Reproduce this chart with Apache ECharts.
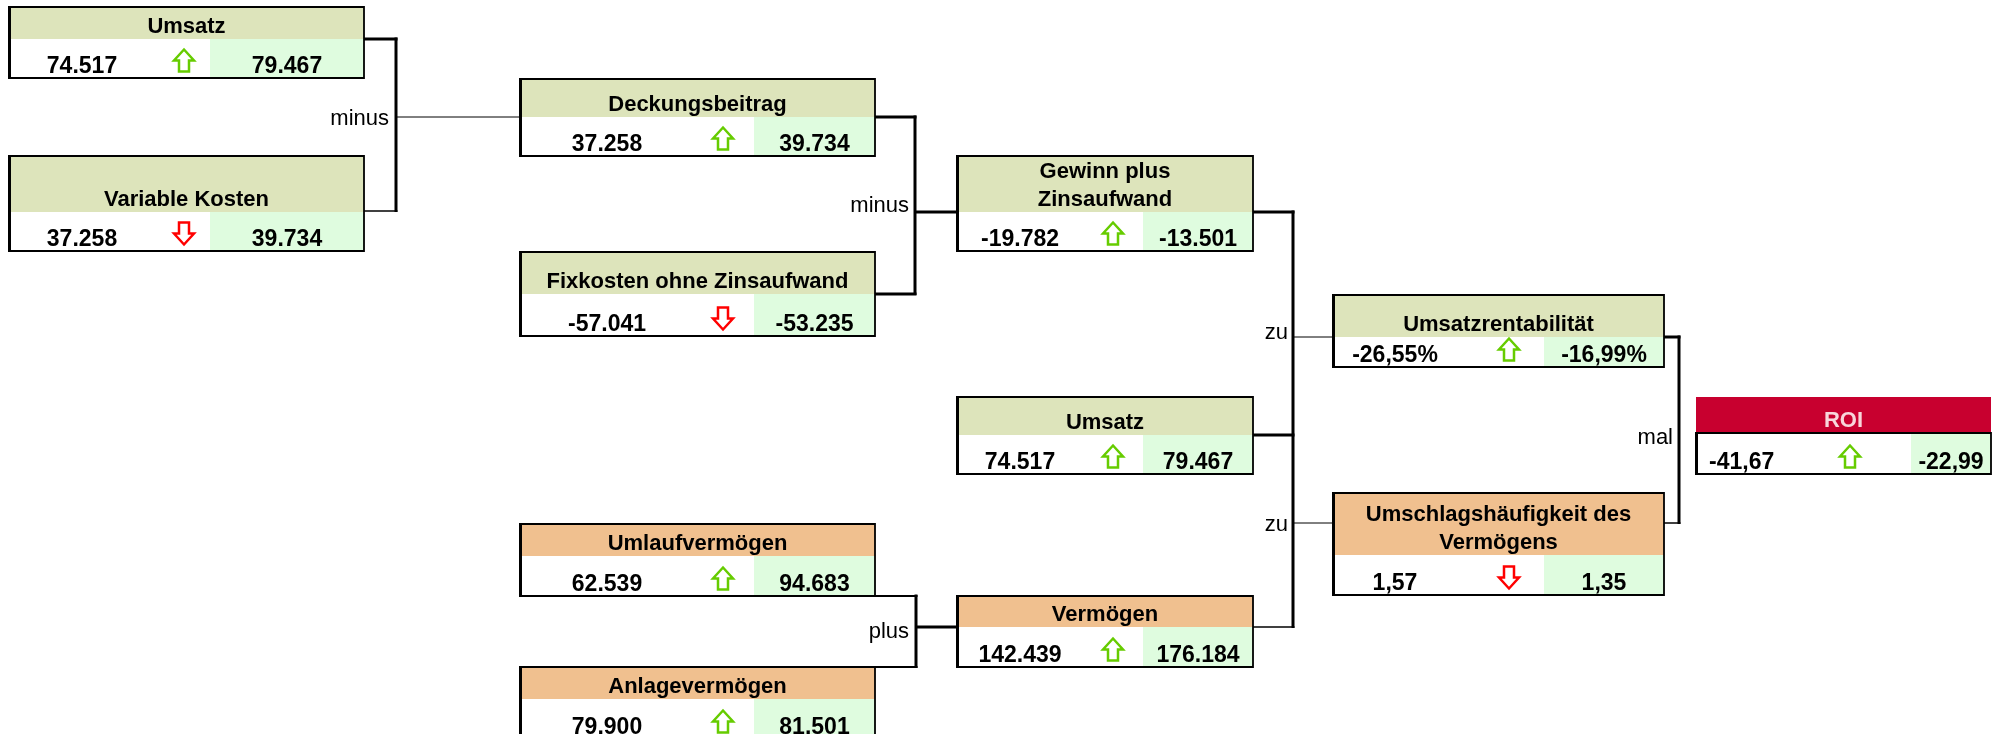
<!DOCTYPE html>
<html>
<head>
<meta charset="utf-8">
<title>ROI Kennzahlenbaum</title>
<script src="https://cdn.jsdelivr.net/npm/echarts@6/dist/echarts.min.js"></script>
<style>
html, body { margin: 0; padding: 0; background: #fff; }
#main { width: 2002px; height: 734px; }
</style>
</head>
<body>
<div id="main"></div>
<script>
/************** Kennzahlen (Vorjahr / aktuell) ************** */
var nodeNames = ['Umsatz', 'Variable Kosten', 'Deckungsbeitrag', 'Fixkosten ohne Zinsaufwand',
	'Gewinn plus\nZinsaufwand', 'Umsatz', 'Umlaufvermögen', 'Anlagevermögen', 'Vermögen',
	'Umsatzrentabilität', 'Umschlagshäufigkeit des\nVermögens', 'ROI'];
var prevValues = [74517, 37258, 37258, -57041, -19782, 74517, 62539, 79900, 142439, -26.55, 1.57, -41.67];
var currValues = [79467, 39734, 39734, -53235, -13501, 79467, 94683, 81501, 176184, -16.99, 1.35, -22.99];
var trend = [1, -1, 1, -1, 1, 1, 1, 1, 1, 1, -1, 1]; // 1 = besser, -1 = schlechter
var valueFormat = ['int', 'int', 'int', 'int', 'int', 'int', 'int', 'int', 'int', 'pct', 'dec', 'dec'];
var operators = ['minus', 'minus', 'plus', 'zu', 'zu', 'mal'];

/************** Layout (Pixel im Raster 2002 x 734) ************** */
// Spalten: links, Breite, Beginn grüne Zelle, Pfeil, Vorjahreswert (relativ zu links)
var columns = [
	{ x: 9, w: 355, green: 201, arrow: 175, prev: 73 },
	{ x: 520, w: 355, green: 234, arrow: 203, prev: 87 },
	{ x: 957, w: 296, green: 186, arrow: 156, prev: 63 },
	{ x: 1333, w: 331, green: 211, arrow: 176, prev: 62 },
	{ x: 1696, w: 295, green: 215, arrow: 154, prev: 13, prevAlign: 'left' }
];
// Box: Spalte, oben, Ende Kopfzeile, unten, Kopffarbe
var boxes = [
	[0, 7, 39, 78, 'g'],
	[0, 156, 212, 251, 'g'],
	[1, 79, 117, 156, 'g'],
	[1, 252, 294, 336, 'g'],
	[2, 156, 212, 251, 'g'],
	[2, 397, 435, 474, 'g'],
	[1, 524, 556, 596, 'o'],
	[1, 667, 699, 739, 'o'],
	[2, 596, 627, 667, 'o'],
	[3, 295, 337, 367, 'g'],
	[3, 493, 555, 595, 'o'],
	[4, 397, 433, 474, 'r']
];
// Klammern: x, Kinder [box, y, Stärke], Eltern [box, y, Stärke]
var brackets = [
	{ x: 396, kids: [[0, 39, 3], [1, 211, 1.5]], parents: [[2, 117, 1]] },
	{ x: 915, kids: [[2, 117, 3], [3, 294, 3]], parents: [[4, 212, 3]] },
	{ x: 916, kids: [[6, 596, 2], [7, 667, 2]], parents: [[8, 627, 3]] },
	{ x: 1293, kids: [[4, 212, 3], [5, 435, 3], [8, 627, 1.5]], parents: [[9, 337, 1], [10, 523, 1]] },
	{ x: 1679, kids: [[9, 337, 3], [10, 523, 1.5]], parents: [] }
];
// Operator-Beschriftung: rechter Rand, Grundlinie
var operatorPos = [[389, 126], [909, 213], [909, 639], [1288, 340], [1288, 532], [1673, 445]];

var headColors = { g: '#DDE4BB', o: '#F0C08F', r: '#C8002F' };
var greenCell = '#DFFCDF';
var FONT = '"Liberation Sans", Arial, sans-serif';

function fmt(v, kind) {
	if (kind === 'pct') return v.toFixed(2).replace('.', ',') + '%';
	if (kind === 'dec') return v.toFixed(2).replace('.', ',');
	var s = String(Math.abs(Math.round(v))).replace(/\B(?=(\d{3})+(?!\d))/g, '.');
	return (v < 0 ? '-' : '') + s;
}

function textEl(str, x, y, size, weight, color, align) {
	return {
		type: 'text',
		style: {
			text: str, x: x, y: y - size * 0.33,
			fill: color, font: weight + ' ' + size + 'px ' + FONT,
			align: align, verticalAlign: 'middle'
		}
	};
}

// hohler Blockpfeil, dir 1 = nach oben, -1 = nach unten
function arrowEl(cx, cy, dir) {
	var pts = [[0, -11], [10, 0], [5, 0], [5, 11], [-5, 11], [-5, 0], [-10, 0]];
	return {
		type: 'polygon',
		shape: { points: pts.map(function (p) { return [cx + p[0], cy + p[1] * dir]; }) },
		style: { fill: '#fff', stroke: dir > 0 ? '#66CC00' : '#FF0000', lineWidth: 2.5 }
	};
}

function renderBox(params, api) {
	var i = api.value(0);
	var b = boxes[i], col = columns[b[0]];
	var tl = api.coord([col.x, b[1]]);
	var hb = api.coord([col.x + col.w, b[2]]);
	var br = api.coord([col.x + col.w, b[3]]);
	var gx = api.coord([col.x + col.green, b[2]])[0];
	var w = br[0] - tl[0];
	var children = [];
	children.push({ type: 'rect', shape: { x: tl[0], y: tl[1], width: w, height: hb[1] - tl[1] }, style: { fill: headColors[b[4]] } });
	children.push({ type: 'rect', shape: { x: tl[0], y: hb[1], width: w, height: br[1] - hb[1] }, style: { fill: '#fff' } });
	children.push({ type: 'rect', shape: { x: gx, y: hb[1], width: br[0] - gx, height: br[1] - hb[1] }, style: { fill: greenCell } });
	var borderTop = b[4] === 'r' ? hb[1] : tl[1];
	children.push({ type: 'rect', shape: { x: tl[0], y: borderTop, width: w, height: br[1] - borderTop }, style: { fill: null, stroke: '#000', lineWidth: 1.8 } });
	children.push({ type: 'line', shape: { x1: tl[0] + 0.5, y1: borderTop - 1, x2: tl[0] + 0.5, y2: br[1] + 1 }, style: { stroke: '#000', lineWidth: 3 } });

	// Kopfzeile
	var lines = nodeNames[i].split('\n');
	var headColor = b[4] === 'r' ? '#F8D6DB' : '#000';
	lines.forEach(function (ln, k) {
		var base = hb[1] - 5 - (lines.length - 1 - k) * 28;
		children.push(textEl(ln, tl[0] + w / 2, base, 22, 'bold', headColor, 'center'));
	});

	// Werte
	var base = br[1] - 4;
	var px = tl[0] + col.prev;
	children.push(textEl(fmt(prevValues[i], valueFormat[i]), px, base, 23, 'bold', '#000', col.prevAlign || 'center'));
	children.push(textEl(fmt(currValues[i], valueFormat[i]), (gx + br[0]) / 2, base, 23, 'bold', '#000', 'center'));
	children.push(arrowEl(tl[0] + col.arrow, br[1] - 17.5, trend[i]));
	return { type: 'group', children: children };
}

function renderBracket(params, api) {
	var k = api.value(0);
	var br = brackets[k];
	var children = [];
	br.kids.forEach(function (kid) {
		var b = boxes[kid[0]], col = columns[b[0]];
		var a = api.coord([col.x + col.w, kid[1]]);
		var c = api.coord([br.x, kid[1]]);
		children.push({ type: 'line', shape: { x1: a[0], y1: a[1], x2: c[0] + 1.5, y2: c[1] }, style: { stroke: '#000', lineWidth: kid[2] } });
	});
	var top = api.coord([br.x, br.kids[0][1]]);
	var bot = api.coord([br.x, br.kids[br.kids.length - 1][1]]);
	children.push({ type: 'line', shape: { x1: top[0], y1: top[1] - 1.5, x2: bot[0], y2: bot[1] + 1 }, style: { stroke: '#000', lineWidth: 3 } });
	br.parents.forEach(function (par) {
		var b = boxes[par[0]], col = columns[b[0]];
		var a = api.coord([br.x, par[1]]);
		var c = api.coord([col.x, par[1]]);
		children.push({ type: 'line', shape: { x1: a[0], y1: a[1], x2: c[0], y2: c[1] }, style: { stroke: '#000', lineWidth: par[2] } });
	});
	return { type: 'group', children: children };
}

function renderOperator(params, api) {
	var k = api.value(0);
	var p = api.coord(operatorPos[k]);
	return textEl(operators[k], p[0], p[1], 22, 'normal', '#000', 'right');
}

var chart = echarts.init(document.getElementById('main'));
chart.setOption({
	animation: false,
	grid: { left: 0, right: 0, top: 0, bottom: 0 },
	xAxis: { type: 'value', min: 0, max: 2002, show: false },
	yAxis: { type: 'value', min: 0, max: 734, inverse: true, show: false },
	series: [
		{ type: 'custom', renderItem: renderBracket, data: brackets.map(function (b, i) { return [i, 0]; }), clip: false, silent: true },
		{ type: 'custom', renderItem: renderBox, data: nodeNames.map(function (n, i) { return [i, 0]; }), clip: false, silent: true },
		{ type: 'custom', renderItem: renderOperator, data: operators.map(function (o, i) { return [i, 0]; }), clip: false, silent: true }
	]
});
</script>
</body>
</html>
